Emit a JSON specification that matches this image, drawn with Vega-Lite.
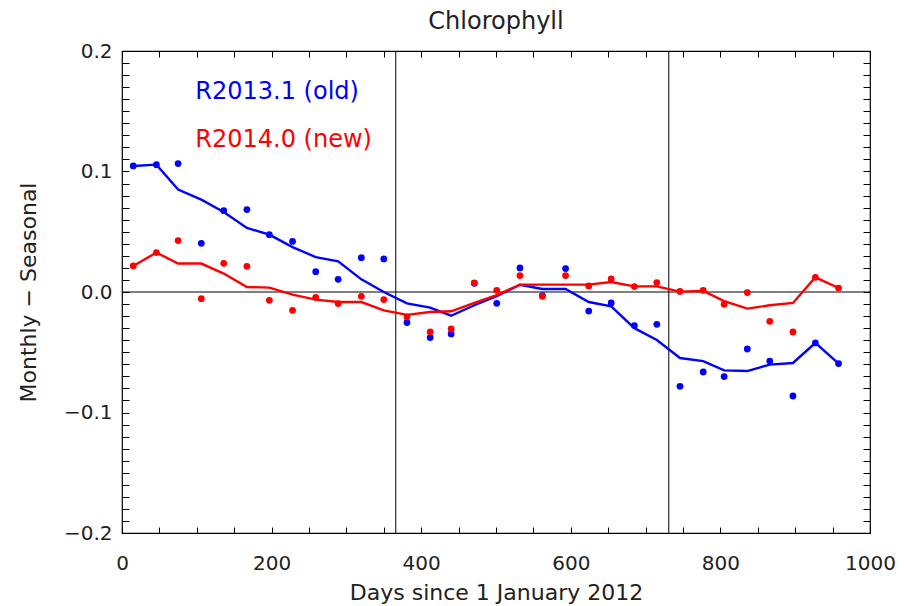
{
  "$schema": "https://vega.github.io/schema/vega-lite/v6.json",
  "width": 748,
  "height": 482,
  "autosize": "none",
  "padding": {"left": 122, "top": 51, "right": 34, "bottom": 73},
  "background": "white",
  "config": {
    "view": {"stroke": "#000", "strokeWidth": 1.2},
    "font": "DejaVu Sans",
    "axis": {"grid": false, "domain": false, "labelColor": "#222", "titleColor": "#222", "labelFont": "DejaVu Sans", "titleFont": "DejaVu Sans", "tickColor": "#000", "titleFontWeight": "normal", "labelOverlap": false, "labelFlush": false}
  },
  "title": {"text": "Chlorophyll", "fontSize": 24, "fontWeight": "normal", "color": "#222", "offset": 7, "anchor": "middle", "font": "DejaVu Sans"},
  "datasets": {
    "chl": [
      {"series": "R2013.1 (old)", "day": 15, "dot": 0.1046, "smooth": 0.1046},
      {"series": "R2013.1 (old)", "day": 46, "dot": 0.1057, "smooth": 0.1057},
      {"series": "R2013.1 (old)", "day": 75, "dot": 0.1066, "smooth": 0.0850},
      {"series": "R2013.1 (old)", "day": 106, "dot": 0.0404, "smooth": 0.0767},
      {"series": "R2013.1 (old)", "day": 136, "dot": 0.0675, "smooth": 0.0664},
      {"series": "R2013.1 (old)", "day": 167, "dot": 0.0684, "smooth": 0.0531},
      {"series": "R2013.1 (old)", "day": 197, "dot": 0.0476, "smooth": 0.0476},
      {"series": "R2013.1 (old)", "day": 228, "dot": 0.0420, "smooth": 0.0373},
      {"series": "R2013.1 (old)", "day": 259, "dot": 0.0169, "smooth": 0.0290},
      {"series": "R2013.1 (old)", "day": 289, "dot": 0.0105, "smooth": 0.0255},
      {"series": "R2013.1 (old)", "day": 320, "dot": 0.0285, "smooth": 0.0105},
      {"series": "R2013.1 (old)", "day": 350, "dot": 0.0274, "smooth": 0.0000},
      {"series": "R2013.1 (old)", "day": 381, "dot": -0.0254, "smooth": -0.0095},
      {"series": "R2013.1 (old)", "day": 412, "dot": -0.0378, "smooth": -0.0130},
      {"series": "R2013.1 (old)", "day": 440, "dot": -0.0348, "smooth": -0.0197},
      {"series": "R2013.1 (old)", "day": 471, "dot": 0.0072, "smooth": -0.0110},
      {"series": "R2013.1 (old)", "day": 501, "dot": -0.0094, "smooth": -0.0035},
      {"series": "R2013.1 (old)", "day": 532, "dot": 0.0200, "smooth": 0.0060},
      {"series": "R2013.1 (old)", "day": 562, "dot": -0.0030, "smooth": 0.0025},
      {"series": "R2013.1 (old)", "day": 593, "dot": 0.0194, "smooth": 0.0025},
      {"series": "R2013.1 (old)", "day": 624, "dot": -0.0158, "smooth": -0.0083},
      {"series": "R2013.1 (old)", "day": 654, "dot": -0.0091, "smooth": -0.0119},
      {"series": "R2013.1 (old)", "day": 685, "dot": -0.0279, "smooth": -0.0300},
      {"series": "R2013.1 (old)", "day": 715, "dot": -0.0268, "smooth": -0.0398},
      {"series": "R2013.1 (old)", "day": 746, "dot": -0.0783, "smooth": -0.0548},
      {"series": "R2013.1 (old)", "day": 777, "dot": -0.0664, "smooth": -0.0573},
      {"series": "R2013.1 (old)", "day": 805, "dot": -0.0702, "smooth": -0.0650},
      {"series": "R2013.1 (old)", "day": 836, "dot": -0.0473, "smooth": -0.0656},
      {"series": "R2013.1 (old)", "day": 866, "dot": -0.0573, "smooth": -0.0603},
      {"series": "R2013.1 (old)", "day": 897, "dot": -0.0863, "smooth": -0.0589},
      {"series": "R2013.1 (old)", "day": 927, "dot": -0.0423, "smooth": -0.0423},
      {"series": "R2013.1 (old)", "day": 958, "dot": -0.0594, "smooth": -0.0594},
      {"series": "R2014.0 (new)", "day": 15, "dot": 0.0216, "smooth": 0.0216},
      {"series": "R2014.0 (new)", "day": 46, "dot": 0.0327, "smooth": 0.0327},
      {"series": "R2014.0 (new)", "day": 75, "dot": 0.0427, "smooth": 0.0236},
      {"series": "R2014.0 (new)", "day": 106, "dot": -0.0055, "smooth": 0.0236},
      {"series": "R2014.0 (new)", "day": 136, "dot": 0.0238, "smooth": 0.0153},
      {"series": "R2014.0 (new)", "day": 167, "dot": 0.0213, "smooth": 0.0042},
      {"series": "R2014.0 (new)", "day": 197, "dot": -0.0069, "smooth": 0.0036},
      {"series": "R2014.0 (new)", "day": 228, "dot": -0.0152, "smooth": -0.0022},
      {"series": "R2014.0 (new)", "day": 259, "dot": -0.0044, "smooth": -0.0063},
      {"series": "R2014.0 (new)", "day": 289, "dot": -0.0096, "smooth": -0.0083},
      {"series": "R2014.0 (new)", "day": 320, "dot": -0.0036, "smooth": -0.0083},
      {"series": "R2014.0 (new)", "day": 350, "dot": -0.0063, "smooth": -0.0152},
      {"series": "R2014.0 (new)", "day": 381, "dot": -0.0207, "smooth": -0.0190},
      {"series": "R2014.0 (new)", "day": 412, "dot": -0.0332, "smooth": -0.0166},
      {"series": "R2014.0 (new)", "day": 440, "dot": -0.0307, "smooth": -0.0160},
      {"series": "R2014.0 (new)", "day": 471, "dot": 0.0075, "smooth": -0.0090},
      {"series": "R2014.0 (new)", "day": 501, "dot": 0.0014, "smooth": -0.0025},
      {"series": "R2014.0 (new)", "day": 532, "dot": 0.0136, "smooth": 0.0060},
      {"series": "R2014.0 (new)", "day": 562, "dot": -0.0036, "smooth": 0.0061},
      {"series": "R2014.0 (new)", "day": 593, "dot": 0.0136, "smooth": 0.0061},
      {"series": "R2014.0 (new)", "day": 624, "dot": 0.0050, "smooth": 0.0061},
      {"series": "R2014.0 (new)", "day": 654, "dot": 0.0108, "smooth": 0.0083},
      {"series": "R2014.0 (new)", "day": 685, "dot": 0.0045, "smooth": 0.0047},
      {"series": "R2014.0 (new)", "day": 715, "dot": 0.0078, "smooth": 0.0047},
      {"series": "R2014.0 (new)", "day": 746, "dot": 0.0005, "smooth": 0.0003},
      {"series": "R2014.0 (new)", "day": 777, "dot": 0.0014, "smooth": 0.0008},
      {"series": "R2014.0 (new)", "day": 805, "dot": -0.0102, "smooth": -0.0075},
      {"series": "R2014.0 (new)", "day": 836, "dot": -0.0005, "smooth": -0.0138},
      {"series": "R2014.0 (new)", "day": 866, "dot": -0.0243, "smooth": -0.0110},
      {"series": "R2014.0 (new)", "day": 897, "dot": -0.0332, "smooth": -0.0091},
      {"series": "R2014.0 (new)", "day": 927, "dot": 0.0122, "smooth": 0.0122},
      {"series": "R2014.0 (new)", "day": 958, "dot": 0.0033, "smooth": 0.0033}
    ],
    "zero": [{"value": 0}],
    "years": [{"day": 366}, {"day": 731}],
    "labels": [
      {"series": "R2013.1 (old)", "day": 98, "value": 0.1657},
      {"series": "R2014.0 (new)", "day": 98, "value": 0.1259}
    ]
  },
  "layer": [
    {
      "data": {"name": "zero"},
      "mark": {"type": "rule", "color": "#000", "strokeWidth": 1},
      "encoding": {
        "y": {
          "field": "value", "type": "quantitative",
          "scale": {"domain": [-0.2, 0.2], "nice": false, "zero": false},
          "axis": {
            "orient": "left",
            "title": "Monthly − Seasonal",
            "titleFontSize": 22,
            "titlePadding": 23,
            "labelFontSize": 20,
            "format": ".1f",
            "values": [-0.2,-0.19,-0.18,-0.17,-0.16,-0.15,-0.14,-0.13,-0.12,-0.11,-0.1,-0.09,-0.08,-0.07,-0.06,-0.05,-0.04,-0.03,-0.02,-0.01,0,0.01,0.02,0.03,0.04,0.05,0.06,0.07,0.08,0.09,0.1,0.11,0.12,0.13,0.14,0.15,0.16,0.17,0.18,0.19,0.2],
            "labelExpr": "abs(datum.value * 10 - round(datum.value * 10)) < 0.001 ? datum.label : ''",
            "tickSize": -7,
            "labelPadding": 17
          }
        }
      }
    },
    {
      "data": {"name": "years"},
      "mark": {"type": "rule", "color": "#000", "strokeWidth": 1},
      "encoding": {
        "x": {
          "field": "day", "type": "quantitative",
          "scale": {"domain": [0, 1000], "nice": false, "zero": false},
          "axis": {
            "orient": "top",
            "title": null,
            "labels": false,
            "values": [0,50,100,150,200,250,300,350,400,450,500,550,600,650,700,750,800,850,900,950,1000],
            "tickSize": -6
          }
        }
      }
    },
    {
      "data": {"name": "chl"},
      "mark": {"type": "line", "strokeWidth": 2.4},
      "encoding": {
        "x": {
          "field": "day", "type": "quantitative",
          "scale": {"domain": [0, 1000], "nice": false, "zero": false},
          "axis": {
            "orient": "bottom",
            "title": "Days since 1 January 2012",
            "titleFontSize": 22,
            "titlePadding": 9,
            "labelFontSize": 20,
            "format": "d",
            "values": [0,50,100,150,200,250,300,350,400,450,500,550,600,650,700,750,800,850,900,950,1000],
            "labelExpr": "datum.value % 200 === 0 ? datum.label : ''",
            "tickSize": -6,
            "labelPadding": 26
          }
        },
        "y": {
          "field": "smooth", "type": "quantitative",
          "scale": {"domain": [-0.2, 0.2], "nice": false, "zero": false},
          "axis": {
            "orient": "right",
            "title": null,
            "labels": false,
            "values": [-0.2,-0.19,-0.18,-0.17,-0.16,-0.15,-0.14,-0.13,-0.12,-0.11,-0.1,-0.09,-0.08,-0.07,-0.06,-0.05,-0.04,-0.03,-0.02,-0.01,0,0.01,0.02,0.03,0.04,0.05,0.06,0.07,0.08,0.09,0.1,0.11,0.12,0.13,0.14,0.15,0.16,0.17,0.18,0.19,0.2],
            "tickSize": -7
          }
        },
        "color": {
          "field": "series", "type": "nominal",
          "scale": {"domain": ["R2013.1 (old)", "R2014.0 (new)"], "range": ["#0000ff", "#ff0000"]},
          "legend": null
        }
      }
    },
    {
      "data": {"name": "chl"},
      "mark": {"type": "circle", "size": 46, "opacity": 1},
      "encoding": {
        "x": {"field": "day", "type": "quantitative", "axis": null},
        "y": {"field": "dot", "type": "quantitative", "axis": null},
        "color": {"field": "series", "type": "nominal", "legend": null}
      }
    },
    {
      "data": {"name": "labels"},
      "mark": {"type": "text", "align": "left", "baseline": "middle", "fontSize": 24, "font": "DejaVu Sans"},
      "encoding": {
        "x": {"field": "day", "type": "quantitative", "axis": null},
        "y": {"field": "value", "type": "quantitative", "axis": null},
        "text": {"field": "series"},
        "color": {"field": "series", "type": "nominal", "legend": null}
      }
    }
  ],
  "resolve": {"axis": {"x": "independent", "y": "independent"}}
}
